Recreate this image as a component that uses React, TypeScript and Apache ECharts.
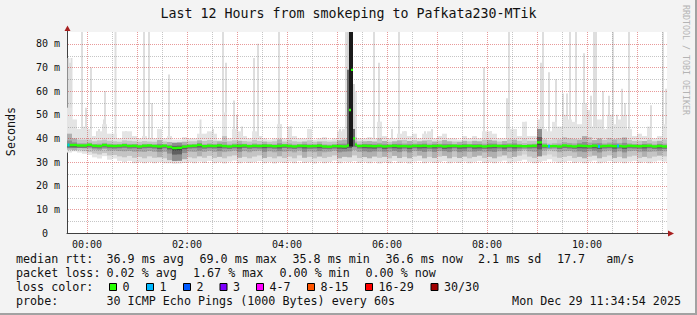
import React, { useEffect, useRef } from "react";
import * as echarts from "echarts";

// ---- time axis (minutes relative to 00:00) ----
const START_MIN = -24;
const END_MIN = 696;
const STEP_MIN = 6;
const Y_MAX = 85;
const xLabelMinutes = [0, 120, 240, 360, 480, 600];
const hourGridMinutes = [0, 60, 120, 180, 240, 300, 360, 420, 480, 540, 600, 660];
const halfHourGridMinutes = [30, 90, 150, 210, 270, 330, 390, 450, 510, 570, 630, 690];
const yLabelValues = [0, 10, 20, 30, 40, 50, 60, 70, 80];
const yMinorValues = [5, 15, 25, 35, 45, 55, 65, 75];

// ---- smoke columns (ms), one every 6 minutes ----
const medianRtt = [
  37.2, 37.2, 37.0, 37.0, 37.3, 36.9, 36.8, 37.2, 36.9, 36.8,
  36.9, 37.1, 36.8, 36.9, 36.6, 36.9, 37.0, 36.8, 36.6, 36.9,
  36.4, 35.9, 36.0, 36.5, 36.8, 36.9, 37.2, 36.7, 36.9, 36.8,
  37.0, 36.8, 36.6, 36.9, 36.8, 37.0, 36.7, 36.9, 36.8, 36.9,
  36.9, 36.7, 36.8, 37.0, 36.8, 36.6, 36.9, 36.8, 36.7, 36.8,
  36.9, 36.6, 36.5, 36.8, 36.7, 36.6, 37.0, 37.4, 36.8, 36.9,
  36.8, 36.7, 36.9, 36.6, 36.8, 36.9, 36.7, 36.8, 36.6, 36.9,
  36.8, 36.9, 36.7, 36.8, 36.9, 36.6, 36.8, 36.9, 36.7, 36.8,
  36.9, 36.7, 36.8, 36.6, 36.8, 36.9, 36.8, 36.7, 36.9, 36.8,
  36.8, 36.7, 36.8, 36.9, 38.3, 36.9, 36.7, 36.8, 36.6, 37.0,
  36.8, 36.6, 36.9, 36.8, 36.7, 36.9, 36.6, 36.8, 36.9, 36.7,
  36.8, 36.6, 36.9, 36.8, 36.7, 36.8, 36.9, 36.6, 36.8, 36.6,
];
const smokeMin = [
  34, 34.5, 34, 33.5, 33, 32, 31.5, 32.5, 31, 31.5,
  30.5, 30, 30.5, 29.5, 30, 29.5, 30, 29.5, 30, 29.5,
  29.5, 29.3, 29.4, 29.6, 30, 29.5, 30.2, 29.6, 30.5, 29.5,
  30, 29.4, 30.2, 30.6, 29.5, 30.1, 29.6, 30, 30.4, 29.5,
  30.1, 29.4, 30, 29.6, 30.2, 29.5, 30.5, 29.6, 30, 29.4,
  30.2, 29.5, 30, 30.6, 29.5, 30.2, 30, 30.4, 29.6, 30.1,
  29.5, 30.2, 29.4, 30, 29.5, 30.5, 29.6, 30.1, 29.4, 30.2,
  30.5, 29.5, 30.1, 29.6, 30, 30.4, 29.5, 30.1, 29.6, 30.2,
  29.5, 30.1, 30.5, 29.6, 30, 29.5, 30.2, 30.6, 29.5, 30.1,
  30.4, 31, 30.1, 29.5, 30, 30.5, 31.2, 30.2, 29.6, 30,
  30.5, 29.6, 30.1, 29.5, 30.2, 30.6, 29.5, 30, 30.4, 29.6,
  30.1, 29.5, 30.2, 30.5, 29.6, 30.1, 29.5, 30.2, 30.6, 30.2,
];
const smokeLo = [
  35.2, 35, 35, 34.6, 34.2, 33.6, 33.2, 33.8, 32.8, 33,
  32.4, 32, 32.6, 31.8, 32.2, 31.6, 32.4, 31.8, 32, 31.6,
  30.8, 30.4, 30.5, 31.2, 32, 31.6, 32.4, 31.8, 32.6, 31.7,
  32.2, 31.6, 32.4, 32.8, 31.8, 32.2, 31.6, 32.3, 32.8, 31.7,
  32.2, 31.6, 32.4, 31.7, 32.3, 31.6, 32.8, 31.8, 32.2, 31.6,
  32.3, 31.7, 32.2, 32.8, 31.6, 32.2, 32, 32.8, 31.7, 32.1,
  31.6, 32.3, 31.8, 32.2, 31.6, 32.6, 31.7, 32.2, 31.6, 32.3,
  32.7, 31.6, 32.2, 31.7, 32.3, 32.6, 31.6, 32.2, 31.7, 32.3,
  31.6, 32.2, 32.7, 31.7, 32.2, 31.6, 32.3, 32.8, 31.6, 32.2,
  32.7, 33.2, 32.3, 31.7, 32.4, 32.8, 33.2, 32.3, 31.8, 32.2,
  32.6, 31.7, 32.2, 31.6, 32.3, 32.7, 31.6, 32.2, 32.8, 31.7,
  32.2, 31.6, 32.3, 32.7, 31.7, 32.2, 31.6, 32.3, 32.7, 32.4,
];
const smokeHi = [
  42, 40, 39.5, 39.5, 39.5, 38.8, 39.2, 39.5, 39, 38.8,
  38.6, 39.2, 39, 38.8, 38.6, 38.9, 38.7, 38.6, 39.3, 38.7,
  38.5, 38.2, 38.3, 38.6, 38.8, 38.8, 39.2, 38.9, 39.3, 39,
  38.8, 41, 38.8, 39.2, 39, 38.9, 38.7, 39.4, 38.9, 38.7,
  38.6, 38.8, 39.6, 38.7, 39.4, 38.8, 38.6, 38.7, 39.2, 38.6,
  38.7, 38.8, 38.6, 38.7, 39.2, 39.5, 39, 40.5, 38.8, 38.8,
  38.9, 38.7, 40, 38.9, 38.6, 38.8, 39.2, 39.4, 38.9, 39.2,
  38.8, 39.1, 39.3, 38.7, 39, 39.3, 38.8, 38.7, 38.6, 39,
  38.8, 39, 38.8, 39.5, 39.4, 39.1, 38.7, 38.9, 39.6, 39.5,
  39, 40, 39, 39, 44, 39.6, 39.4, 40, 39.6, 40.5,
  40, 39.8, 39.5, 41, 40.5, 39.3, 40, 39.4, 40.2, 39.6,
  40, 40.4, 39.4, 38.9, 39, 38.9, 39.5, 38.8, 39, 39.6,
];
const smokeTop = [
  53, 48, 44, 45, 44, 41, 43, 46, 42, 42,
  40, 43, 43, 41, 40, 41, 40, 40, 44, 40,
  41, 39.5, 39.5, 40.5, 40, 40, 42, 42, 43, 42,
  39.5, 51, 40, 44, 43, 41, 40, 43, 41, 40,
  39.5, 40, 46, 40, 45, 41, 40, 40, 44, 39.5,
  40, 40.5, 39.5, 40, 43, 44, 63, 60, 40, 40,
  40.5, 40, 47, 41, 40, 40, 42, 43, 41, 42,
  40, 42, 43, 40, 41, 42, 40, 40, 39.5, 41,
  40, 41, 40, 43, 43, 42, 40, 40, 44, 44,
  41, 47, 41, 41, 48, 44, 43, 47, 45, 50,
  48, 47, 46, 55, 52, 45, 48, 44, 50, 46,
  48, 50, 44, 41, 42, 41, 45, 40, 41, 46,
];
// darkness of the smoke band (1 light ... 4 very dark)
const smokeShade = [
  3, 3, 2, 2, 2, 2, 2, 2, 2, 2,
  2, 2, 2, 2, 2, 2, 2, 2, 3, 2,
  3, 4, 4, 3, 2, 2, 3, 2, 2, 2,
  3, 2, 2, 2, 3, 2, 2, 2, 2, 3,
  2, 2, 3, 2, 2, 2, 2, 3, 2, 2,
  3, 2, 2, 2, 3, 3, 3, 2, 2, 3,
  3, 3, 2, 3, 2, 3, 3, 2, 3, 2,
  3, 3, 2, 3, 2, 3, 3, 2, 3, 3,
  2, 3, 3, 2, 3, 3, 2, 3, 2, 3,
  2, 1, 2, 2, 4, 2, 1, 1, 2, 2,
  2, 2, 3, 3, 2, 3, 3, 2, 2, 3,
  2, 3, 2, 2, 2, 3, 2, 2, 3, 2,
];

// ---- isolated high pings (light smoke spikes) ----
const spikeTimes = [
  -23.4, -21.6, -19.8, -7.2, -2.4, 3.6, 10.8, 13.2, 19.2, 20.4,
  33, 45.6, 67.2, 73.2, 76.8, 87.6, 97.2, 135, 142.8, 150,
  162, 165.6, 175.2, 178.8, 184.8, 199.2, 204, 229.2, 231.6, 243.6,
  267.6, 302.4, 309.6, 343.2, 349.2, 351.6, 364.8, 373.2, 380.4, 404.4,
  412.8, 475.2, 483.6, 502.8, 505.2, 525.6, 543.6, 546, 553.2, 561.6,
  570, 574.8, 578.4, 585.6, 595.2, 597.6, 603.6, 607.2, 609.6, 618,
  625.2, 630, 634.8, 640.8, 644.4, 649.2, 675.6, 690, 693.6,
];
const spikeTops = [
  74, 72, 74, 85, 53, 70, 43, 44, 48, 60,
  85, 43, 85, 85, 55, 44, 67, 48, 42, 44,
  85, 72, 56, 50, 45, 74, 80, 85, 46, 45,
  44, 44, 85, 85, 72, 47, 44, 85, 43, 43,
  44, 70, 43, 57, 85, 47, 72, 85, 68, 65,
  59, 59, 85, 85, 76, 55, 58, 85, 85, 60,
  58, 85, 50, 61, 55, 85, 54, 85, 61,
];

// ---- latency event around 05:13 ----
const eventTimes = [312, 314.4, 316.8, 319.2];
const eventMedian = [37, 52, 69, 40];
const eventDarkTop = [69, 85, 85, 44];
const eventLightTop = [85, 85, 85, 63];
const eventShade = [3, 5, 5, 3];

// ---- steps with 1/30 lost ----
const loss1Times = [-23.4, 553.2, 613.2, 636];

// ---- legend ----
const rttStatNames = ["avg", "max", "min", "now"];
const rttStatValues = [36.9, 69.0, 35.8, 36.6];
const lossStatValues = [0.02, 1.67, 0.0, 0.0];
const rttSd = 2.1;
const rttAmPerS = 17.7;
const lossLegendLabels = ["0", "1", "2", "3", "4-7", "8-15", "16-29", "30/30"];
const lossLegendColors = ["#26ff00", "#00b8ff", "#0059ff", "#7e00ff", "#ff00ff", "#ff5500", "#ff0000", "#a00000"];
const titleText = "Last 12 Hours from smokeping to Pafkata230-MTik";
const probeText = "30 ICMP Echo Pings (1000 Bytes) every 60s";
const dateText = "Mon Dec 29 11:34:54 2025";

const MONO = '"DejaVu Sans Mono", monospace';
const LIGHT = "#e4e4e4";
const MID = ["#d2d2d2", "#c4c4c4", "#b0b0b0", "#8e8e8e"];
const INNER = ["#bababa", "#a6a6a6", "#8e8e8e", "#606060"];
const CORE = ["#909090", "#787878", "#606060", "#404040"];
const EVENT_DARK = ["#bbbbbb", "#999999", "#6a6a6a", "#444444", "#1a1a1a"];
const GREEN = "#26ff00";
const MAJOR_GRID = "rgba(205,30,30,0.45)";
const MINOR_GRID = "rgba(120,120,120,0.42)";

function buildOption() {
  const smokeRows = medianRtt.map((m, i) => [
    START_MIN + i * STEP_MIN, smokeMin[i], smokeLo[i], m, smokeHi[i], smokeTop[i], smokeShade[i],
  ]);
  const medianRows = medianRtt.map((m, i) => [START_MIN + i * STEP_MIN, m]);
  const spikeRows = spikeTimes.map((t, i) => [t, spikeTops[i]]);
  const eventRows = eventTimes.map((t, i) => [t, eventMedian[i], eventDarkTop[i], eventLightTop[i], eventShade[i]]);
  const lossRows = loss1Times.map((t) => [t, medianRtt[Math.floor((t - START_MIN) / STEP_MIN)]]);

  const renderSmoke = (_p: any, api: any) => {
    const t = api.value(0);
    const xa = api.coord([t, 0])[0];
    const xb = api.coord([t + STEP_MIN, 0])[0];
    const yv = (v: number) => api.coord([t, v])[1];
    const mn = api.value(1), lo = api.value(2), med = api.value(3), hi = api.value(4), top = api.value(5);
    const sh = api.value(6) - 1;
    const band = (a: number, b: number, fill: string) => ({
      type: "rect",
      shape: { x: xa, y: yv(b), width: xb - xa, height: yv(a) - yv(b) },
      style: { fill },
    });
    return {
      type: "group",
      children: [
        band(mn, top, LIGHT),
        band(lo, hi, MID[sh]),
        band(lo + (med - lo) * 0.5, med + (hi - med) * 0.4, INNER[sh]),
        { type: "rect", shape: { x: xa, y: yv(med), width: xb - xa, height: 2.5 }, style: { fill: CORE[sh] } },
      ],
    };
  };

  const renderMedian = (_p: any, api: any) => {
    const t = api.value(0);
    const p0 = api.coord([t, api.value(1)]);
    const p1 = api.coord([t + STEP_MIN, api.value(1)]);
    return { type: "rect", shape: { x: p0[0], y: p0[1] - 1.2, width: p1[0] - p0[0], height: 2.4 }, style: { fill: GREEN } };
  };

  const renderSpike = (_p: any, api: any) => {
    const t = api.value(0);
    const p0 = api.coord([t, 38]);
    const p1 = api.coord([t + 2.4, api.value(1)]);
    return { type: "rect", shape: { x: p0[0], y: p1[1], width: p1[0] - p0[0], height: p0[1] - p1[1] }, style: { fill: "#dedede" } };
  };

  const renderEvent = (_p: any, api: any) => {
    const t = api.value(0);
    const base = api.coord([t, 36.5]);
    const xb = api.coord([t + 2.4, 0])[0];
    const w = xb - base[0];
    const yDark = api.coord([t, api.value(2)])[1];
    const yLight = api.coord([t, api.value(3)])[1];
    const yMed = api.coord([t, api.value(1)])[1];
    return {
      type: "group",
      children: [
        { type: "rect", shape: { x: base[0], y: yLight, width: w, height: base[1] - yLight }, style: { fill: "#d4d4d4" } },
        { type: "rect", shape: { x: base[0], y: yDark, width: w, height: base[1] - yDark }, style: { fill: EVENT_DARK[api.value(4) - 1] } },
        { type: "rect", shape: { x: base[0], y: yMed - 1.2, width: w, height: 2.4 }, style: { fill: GREEN } },
      ],
    };
  };

  const renderLoss = (_p: any, api: any) => {
    const t = api.value(0);
    const p0 = api.coord([t, api.value(1)]);
    const p1 = api.coord([t + 2.4, api.value(1)]);
    return { type: "rect", shape: { x: p0[0], y: p0[1] - 1.5, width: p1[0] - p0[0], height: 3 }, style: { fill: lossLegendColors[1] } };
  };

  const renderVGrid = (color: string) => (_p: any, api: any) => {
    const t = api.value(0);
    const p0 = api.coord([t, 0]);
    const p1 = api.coord([t, Y_MAX]);
    const x = Math.round(p0[0]) + 0.5;
    return { type: "line", shape: { x1: x, y1: p0[1], x2: x, y2: p1[1] }, style: { stroke: color, lineWidth: 1, lineDash: [1, 1] } };
  };
  const renderHGrid = (color: string) => (_p: any, api: any) => {
    const v = api.value(0);
    if (v <= 0) return undefined;
    const p0 = api.coord([START_MIN, v]);
    const p1 = api.coord([END_MIN, v]);
    const y = Math.round(p0[1]) + 0.5;
    return { type: "line", shape: { x1: p0[0] + 1, y1: y, x2: p1[0], y2: y }, style: { stroke: color, lineWidth: 1, lineDash: [1, 1] } };
  };

  const fmtHour = (v: number) => {
    const h = (((Math.round(v / 60)) % 24) + 24) % 24;
    return String(h).padStart(2, "0") + ":00";
  };

  const textEl = (text: string, x: number, y: number, extra: any = {}) => ({
    type: "text",
    x,
    y,
    z: 100,
    silent: true,
    style: { text, fill: "#111", fontFamily: MONO, fontSize: 11.7, align: "left", verticalAlign: "middle", ...extra },
  });

  const CH = 7.03;
  const line1Starts = [106.5, 199.5, 292.5, 385.5];
  const line2Starts = [106.5, 193, 279.5, 365.5];
  const squareXs = [109, 146, 183, 219.5, 256, 307, 365, 430.5];

  const graphics: any[] = [
    { type: "rect", z: 100, silent: true, shape: { x: 695, y: 0, width: 2, height: 315 }, style: { fill: "#a2a2a2" } },
    { type: "rect", z: 100, silent: true, shape: { x: 0, y: 313, width: 697, height: 2 }, style: { fill: "#a2a2a2" } },
    textEl(titleText, 348.5, 13.2, { fontSize: 13.3, align: "center" }),
    { type: "text", x: 10.8, y: 131.5, rotation: Math.PI / 2, z: 100, silent: true,
      style: { text: "Seconds", fill: "#111", fontFamily: MONO, fontSize: 11.7, align: "center", verticalAlign: "middle" } },
    { type: "text", x: 685.5, y: 60, rotation: -Math.PI / 2, z: 100, silent: true,
      style: { text: "RRDTOOL / TOBI OETIKER", fill: "#b4b4b4", fontFamily: MONO, fontSize: 8.3, align: "center", verticalAlign: "middle" } },
    // axis extensions and arrows
    { type: "line", z: 100, silent: true, shape: { x1: 667, y1: 233.5, x2: 670, y2: 233.5 }, style: { stroke: "#404040", lineWidth: 1 } },
    { type: "line", z: 100, silent: true, shape: { x1: 67.5, y1: 32, x2: 67.5, y2: 29 }, style: { stroke: "#404040", lineWidth: 1 } },
    { type: "polygon", z: 101, silent: true, shape: { points: [[668, 230.5], [674, 233.5], [668, 236.5]] }, style: { fill: "#a82020" } },
    { type: "polygon", z: 101, silent: true, shape: { points: [[64.5, 31], [67.5, 25.5], [70.5, 31]] }, style: { fill: "#a82020" } },
    // legend line 1
    textEl("median rtt:", 16, 259),
    ...rttStatValues.map((v, k) => textEl(`${v.toFixed(1)} ms ${rttStatNames[k]}`, line1Starts[k], 259)),
    textEl(`${rttSd.toFixed(1)} ms sd`, 478, 259),
    textEl(`${rttAmPerS.toFixed(1)}`, 557, 259),
    textEl("am/s", 557 + 7 * CH, 259),
    // legend line 2
    textEl("packet loss:", 16, 273),
    ...lossStatValues.map((v, k) => textEl(`${v.toFixed(2)} % ${rttStatNames[k]}`, line2Starts[k], 273)),
    // legend line 3
    textEl("loss color:", 16, 287),
    ...lossLegendLabels.map((l, k) => textEl(l, squareXs[k] + 13.5, 287)),
    ...lossLegendColors.map((c, k) => ({
      type: "rect", z: 100, silent: true,
      shape: { x: squareXs[k] + 0.5, y: 283.5, width: 7, height: 7 },
      style: { fill: c, stroke: "#000", lineWidth: 1 },
    })),
    // legend line 4
    textEl("probe:", 16, 301),
    textEl(probeText, 106.5, 301),
    textEl(dateText, 681, 301, { align: "right" }),
  ];

  return {
    animation: false,
    backgroundColor: "#f3f3f3",
    grid: { left: 67, top: 32, width: 600, height: 201, show: true, backgroundColor: "#ffffff", borderWidth: 0 },
    xAxis: {
      type: "value", min: START_MIN, max: END_MIN, position: "bottom",
      axisLine: { show: true, onZero: false, lineStyle: { color: "#404040", width: 1 } },
      axisTick: { show: false, customValues: xLabelMinutes },
      axisLabel: { customValues: xLabelMinutes, formatter: fmtHour, fontFamily: MONO, fontSize: 10, color: "#111", margin: 6 },
      splitLine: { show: false },
    },
    yAxis: {
      type: "value", min: 0, max: Y_MAX, position: "left",
      axisLine: { show: true, onZero: false, lineStyle: { color: "#404040", width: 1 } },
      axisTick: { show: false, customValues: yLabelValues },
      axisLabel: {
        customValues: yLabelValues,
        formatter: (v: number) => (v === 0 ? "0\u00a0\u00a0" : `${v} m`),
        fontFamily: MONO, fontSize: 10, color: "#111", margin: 7,
      },
      splitLine: { show: false },
    },
    series: [
      { type: "custom", name: "spikes", z: 2, clip: true, renderItem: renderSpike, data: spikeRows, encode: { x: 0, y: 1 } },
      { type: "custom", name: "smoke", z: 3, clip: true, renderItem: renderSmoke, data: smokeRows, encode: { x: 0, y: [1, 5] } },
      { type: "custom", name: "minor x grid", z: 4, renderItem: renderVGrid(MINOR_GRID), data: halfHourGridMinutes.map((t) => [t]), encode: { x: 0 } },
      { type: "custom", name: "major x grid", z: 4, renderItem: renderVGrid(MAJOR_GRID), data: hourGridMinutes.map((t) => [t]), encode: { x: 0 } },
      { type: "custom", name: "minor y grid", z: 4, renderItem: renderHGrid(MINOR_GRID), data: yMinorValues.map((v) => [v]), encode: { y: 0 } },
      { type: "custom", name: "major y grid", z: 4, renderItem: renderHGrid(MAJOR_GRID), data: yLabelValues.map((v) => [v]), encode: { y: 0 } },
      { type: "custom", name: "median", z: 5, clip: true, renderItem: renderMedian, data: medianRows, encode: { x: 0, y: 1 } },
      { type: "custom", name: "event", z: 6, clip: true, renderItem: renderEvent, data: eventRows, encode: { x: 0, y: [1, 3] } },
      { type: "custom", name: "loss", z: 7, clip: true, renderItem: renderLoss, data: lossRows, encode: { x: 0, y: 1 } },
    ],
    graphic: { elements: graphics },
  };
}

export default function App() {
  const ref = useRef<HTMLDivElement>(null);
  useEffect(() => {
    if (!ref.current) return;
    const chart = echarts.init(ref.current, null, { renderer: "svg", width: 697, height: 315 });
    chart.setOption(buildOption() as any);
    return () => chart.dispose();
  }, []);
  return <div ref={ref} style={{ position: "absolute", left: 0, top: 0, width: 697, height: 315 }} />;
}
